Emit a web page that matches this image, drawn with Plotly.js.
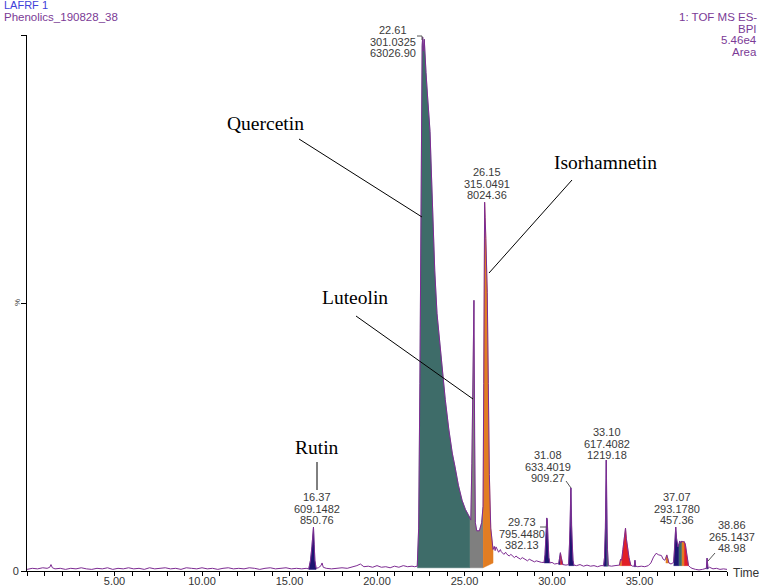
<!DOCTYPE html>
<html><head><meta charset="utf-8">
<script src="https://cdn.plot.ly/plotly-3.0.1.min.js"></script>
<style>html,body{margin:0;padding:0;background:#fff}#chart{width:761px;height:587px}</style>
</head><body><div id="chart"></div>
<script>
// ---- chromatogram trace (retention time, min ; relative intensity, %) ----
const time = [
 0.0,0.3,0.6,0.9,1.15,1.3,1.37,1.45,1.6,1.9,2.2,2.5,2.8,3.1,3.4,3.7,4.0,4.3,4.6,4.9,5.2,5.5,5.8,6.1,6.4,6.7,7.0,7.3,7.6,7.9,
 8.2,8.5,8.8,9.1,9.4,9.7,10.0,10.3,10.6,10.9,11.2,11.5,11.8,12.1,12.4,12.7,13.0,13.3,13.6,13.9,14.2,14.5,14.8,15.1,15.4,15.7,15.95,
 16.1,16.2,16.28,16.34,16.37,16.41,16.45,16.52,
 16.65,16.8,16.86,16.93,17.1,17.4,17.7,18.0,18.3,18.6,18.85,19.05,19.25,19.5,19.75,20.0,20.25,20.5,20.75,21.0,21.25,21.5,21.75,22.0,22.15,
 22.3,22.38,22.45,22.5,22.55,22.58,22.61,22.65,22.7,22.74,22.8,22.88,22.96,23.03,23.1,23.2,23.3,23.43,23.6,23.75,23.9,24.1,24.3,24.46,24.65,24.86,25.05,25.2,25.31,
 25.36,25.42,25.5,25.54,25.58,25.62,25.7,25.85,25.98,26.06,
 26.1,26.13,26.15,26.18,26.22,26.3,26.36,26.42,26.5,26.58,26.63,
 26.7,26.75,26.8,26.85,26.95,27.05,27.1,27.25,27.35,27.4,27.55,27.65,27.7,27.85,27.95,28.0,28.2,28.3,28.4,28.6,28.7,28.8,29.0,29.1,29.2,29.4,29.55,
 29.6,29.66,29.7,29.73,29.77,29.82,29.88,
 30.0,30.15,30.3,30.38,30.44,30.48,30.52,30.56,30.62,30.8,30.95,
 31.0,31.04,31.08,31.11,31.15,31.2,31.25,
 31.4,31.6,31.8,32.0,32.2,32.4,32.6,32.8,32.95,
 33.0,33.05,33.1,33.13,33.17,33.22,
 33.4,33.6,33.75,33.85,33.92,33.98,34.05,34.13,34.2,34.25,34.32,34.4,34.5,
 34.6,34.7,34.74,34.78,34.9,35.1,35.3,35.5,35.65,35.8,35.95,36.1,36.25,36.35,36.45,
 36.5,36.56,36.62,36.68,36.8,36.95,
 37.0,37.04,37.07,37.12,37.2,37.25,37.3,37.36,37.42,37.48,37.55,37.62,37.68,37.74,37.8,
 37.9,38.0,38.2,38.4,38.6,38.8,38.82,38.86,38.9,38.92,39.0,39.2,39.4,39.6,39.8,40.0
];
const intensity = [
 0.3,0.5,0.4,0.6,0.5,0.7,1.2,0.6,0.4,0.5,0.3,0.5,0.4,0.6,0.4,0.3,0.5,0.4,0.6,0.3,0.5,0.4,0.6,0.4,0.5,0.3,0.6,0.4,0.5,0.6,
 0.4,0.5,0.3,0.6,0.5,0.4,0.6,0.4,0.5,0.3,0.5,0.6,0.4,0.5,0.4,0.6,0.5,0.3,0.5,0.6,0.4,0.5,0.6,0.4,0.5,0.4,0.5,
 0.4,2.0,4.5,7.5,8.2,5.0,2.0,0.5,
 0.6,1.0,1.5,0.7,0.5,0.4,0.5,0.6,0.5,0.7,1.0,1.3,0.8,0.9,0.7,1.0,0.7,0.8,0.6,0.9,0.7,1.0,0.8,0.9,0.8,
 0.9,8,35,70,92,98,99.6,97,99.2,96,93,89,86,82,75,65,56,48,42,36.5,32,26.5,22,19.4,16,13.2,11.5,10.6,10,
 9.5,20,45,50.5,25,9,7.5,7.5,9,12,
 35,60,68.8,66,62,52,35,18,8,5,4,
 4.6,3.8,4.5,4.2,3.5,4.0,3.6,3.1,3.5,3.2,2.8,3.1,2.9,2.5,2.8,2.6,2.2,2.5,2.3,1.9,2.2,2.0,1.7,1.9,1.8,1.6,1.6,
 3,7,9.9,9.5,6,2.5,1.5,
 1.6,1.3,1.4,1.3,2.8,3.4,2.6,2.0,1.2,1.1,1.2,
 5,8.5,15.5,9,5,2,1.1,
 1.0,1.2,0.9,1.1,0.9,1.0,0.8,1.0,1.0,
 2.5,8,20.7,7,4,1.0,
 0.9,1.0,1.1,1.1,2.2,2.0,4,6.5,8,6,4,2.5,1.1,
 0.9,0.9,2.0,0.9,0.8,0.9,0.8,1.0,1.5,2.6,3.3,3.0,2.9,2.2,2.0,
 2.4,3.0,2.3,1.5,1.3,1.6,
 4,7,8.2,6,4.5,5.0,5.6,5.2,5.6,5.4,5.5,5,3.5,2,1.0,
 0.7,0.5,0.3,0.2,0.3,0.4,0.5,2.4,0.8,0.5,0.7,0.4,0.5,0.3,0.4,0.3
];

// ---- integrated peak regions ----
const regionStart    = [16.1, 22.3, 25.31, 26.06, 29.55, 30.38, 30.48, 30.95, 32.95, 33.13, 33.85, 33.98, 34.7, 36.5, 36.95, 37.25, 37.42, 37.55, 38.82];
const regionEnd      = [16.52,25.31,26.06, 26.63, 29.88, 30.48, 30.62, 31.25, 33.13, 33.22, 33.98, 34.5, 34.78, 36.68, 37.25, 37.42, 37.55, 37.8, 38.92];
const regionBaseFrom = [0.3,  0.6,  0.6,   0.6,   1.5,   1.2,   1.2,   1.0,   0.9,   0.9,   1.0,   1.0,  0.8,   1.5,   1.0,   1.0,   1.0,   1.0,  0.4];
const regionBaseTo   = [0.3,  0.6,  0.6,   1.5,   1.5,   1.2,   1.2,   1.0,   0.9,   0.9,   1.0,   1.0,  0.8,   1.5,   1.0,   1.0,   1.0,   1.0,  0.4];
const regionKind     = ['navy','teal','gray','orange','navy','navy','red','navy','navy','teal','orange','red','navy','orange','navy','teal','orange','red','navy'];

// ---- peak labels ----
const peakRT   = ['22.61','26.15','29.73','31.08','33.10','37.07','38.86','16.37'];
const peakMz   = ['301.0325','315.0491','795.4480','633.4019','617.4082','293.1780','265.1437','609.1482'];
const peakArea = ['63026.90','8024.36','382.13','909.27','1219.18','457.36','48.98','850.76'];
const compounds = ['Quercetin','Isorhamnetin','Luteolin','Rutin'];

const xTickVals = [5,10,15,20,25,30,35];
const xTickText = ['5.00','10.00','15.00','20.00','25.00','30.00','35.00'];

// ---- styles ----
const kindColor = {navy:'#1c1570', teal:'#3e6c69', gray:'#7f7f7f', orange:'#e27d22', red:'#e21f26'};
const lineColor = '#7d2b92';

const traces = [];
regionStart.forEach((s,i)=>{
  const e = regionEnd[i];
  const xs=[], ys=[];
  time.forEach((t,j)=>{ if(t>=s-1e-9 && t<=e+1e-9){ xs.push(t); ys.push(intensity[j]); } });
  xs.push(e, s); ys.push(regionBaseTo[i], regionBaseFrom[i]);
  traces.push({x:xs,y:ys,type:'scatter',mode:'lines',fill:'toself',fillcolor:kindColor[regionKind[i]],
    line:{width:0.5,color:kindColor[regionKind[i]]},hoverinfo:'skip',showlegend:false});
});
traces.push({x:time,y:intensity,type:'scatter',mode:'lines',line:{color:lineColor,width:1},showlegend:false});

// pixel -> paper helpers (plot area: x 27..727, y 35..571)
const PX = px => (px-27)/700;
const PY = py => (571-py)/536;
const sans = 'Liberation Sans, Arial, sans-serif';
const serif = 'Liberation Serif, Times New Roman, serif';

const ann = [];
function txt(text,px,py,size,color,family,xanchor,extra){
  ann.push(Object.assign({text:text,xref:'paper',yref:'paper',x:PX(px),y:PY(py),showarrow:false,
    xanchor:xanchor||'center',yanchor:'middle',font:{size:size,color:color,family:family}},extra||{}));
}
const labelPos = [[393,30],[487,172],[522,522],[548,455],[607,432],[677,497],[732,525],[317,497]];
peakRT.forEach((rt,i)=>{
  const [cx,cy]=labelPos[i];
  [rt,peakMz[i],peakArea[i]].forEach((s,k)=>txt(s,cx,cy+k*11.5,11,'#3a3a3a',sans));
});
const compPos = [[265,124],[605,162],[355,297],[317,447]];
compounds.forEach((c,i)=>txt(c,compPos[i][0],compPos[i][1],19.5,'#000',serif));

txt('LAFRF 1',2,5,11,'#4040d8',sans,'left');
txt('Phenolics_190828_38',2,17,11.5,'#7b3a96',sans,'left');
['1: TOF MS ES-','BPI','5.46e4','Area'].forEach((s,k)=>txt(s,759,17+k*11.7,11.5,'#7b3a96',sans,'right'));
txt('Time',731,573,12,'#333',sans,'left');
txt('%',17,303,8,'#333',sans,'center',{textangle:-90});

const seg = (a,b,c,d)=>({type:'line',xref:'paper',yref:'paper',x0:PX(a),y0:PY(b),x1:PX(c),y1:PY(d),line:{color:'#000',width:1}});
const segG = (a,b,c,d)=>({type:'line',xref:'paper',yref:'paper',x0:PX(a),y0:PY(b),x1:PX(c),y1:PY(d),line:{color:'#555',width:1}});
const shapes = [
  seg(299,139,422,217),   // Quercetin
  seg(572,180,489,273),   // Isorhamnetin
  seg(356,316,473,399),   // Luteolin
  seg(317,462,317,490),   // Rutin
  segG(417,36,422,36), segG(422,36,422,40),
  segG(540,527,547,527),
  segG(566,481,571,488),
  segG(708,561,715,553)
];

const layout = {
  width:761,height:587,margin:{l:27,r:34,t:35,b:16},
  paper_bgcolor:'#fff',plot_bgcolor:'#fff',showlegend:false,
  xaxis:{range:[0,40],showline:true,linecolor:'#000',linewidth:1,ticks:'outside',ticklen:4,tickcolor:'#000',
    tickmode:'array',tickvals:xTickVals,ticktext:xTickText,showgrid:false,zeroline:false,
    ticklabelstandoff:-4,
    tickfont:{size:11,color:'#333',family:sans},
    minor:{dtick:1,tick0:0,ticks:'outside',ticklen:4,tickcolor:'#000',showgrid:false}},
  yaxis:{range:[0,100],showline:true,linecolor:'#000',linewidth:1,ticks:'outside',ticklen:5,tickcolor:'#000',
    tickmode:'array',tickvals:[0,50,100],ticktext:['0','',''],showgrid:false,zeroline:false,
    tickfont:{size:11,color:'#333',family:sans}},
  annotations:ann,shapes:shapes
};
Plotly.newPlot('chart',traces,layout,{staticPlot:true,displayModeBar:false});
</script></body></html>
